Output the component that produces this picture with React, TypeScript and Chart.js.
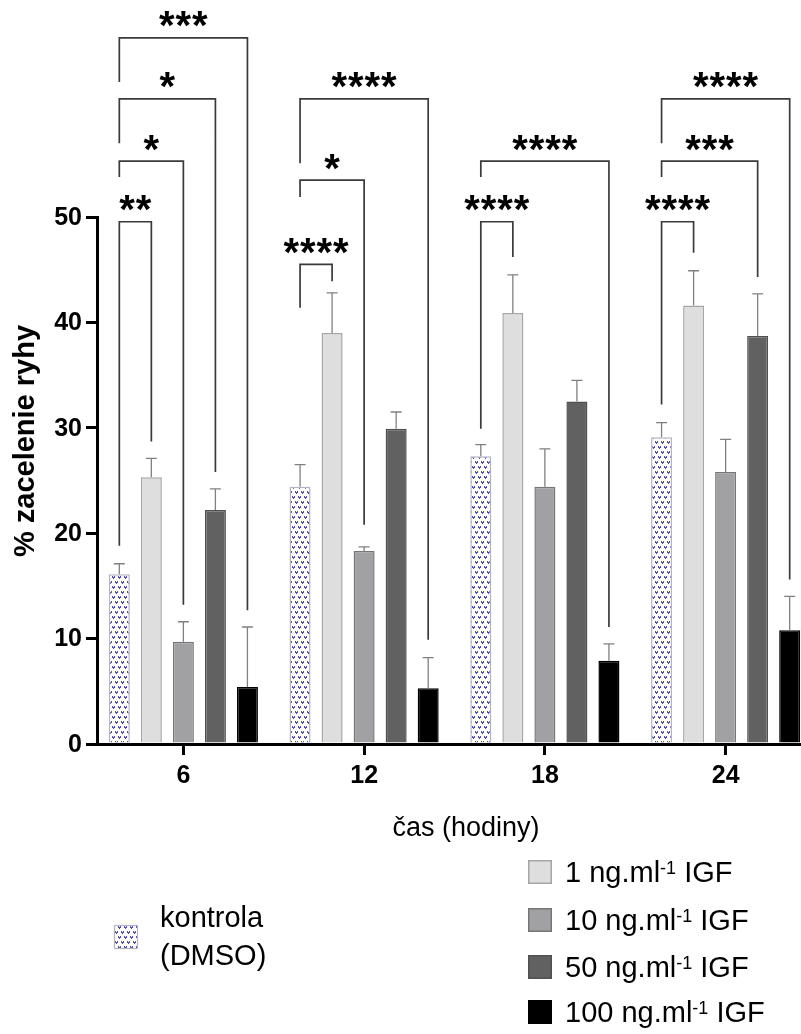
import React, { useEffect, useRef } from 'react';
import { Chart, registerables } from 'chart.js';

Chart.register(...registerables);

// ---------- data ----------
const timeLabels = ['6', '12', '18', '24'];
const seriesLabels = ['kontrola (DMSO)', '1 ng.ml-1 IGF', '10 ng.ml-1 IGF', '50 ng.ml-1 IGF', '100 ng.ml-1 IGF'];

const controlValues = [16.1, 24.4, 27.3, 29.1];
const controlErrors = [1.0, 2.1, 1.1, 1.4];
const igf1Values = [25.3, 39.0, 40.9, 41.6];
const igf1Errors = [1.8, 3.8, 3.6, 3.3];
const igf10Values = [9.7, 18.3, 24.4, 25.8];
const igf10Errors = [1.9, 0.4, 3.6, 3.1];
const igf50Values = [22.2, 29.9, 32.5, 38.7];
const igf50Errors = [2.0, 1.6, 2.0, 4.0];
const igf100Values = [5.4, 5.3, 7.9, 10.8];
const igf100Errors = [5.7, 2.9, 1.6, 3.2];

const yTicks = [0, 10, 20, 30, 40, 50];

// significance brackets (control vs. target series within a time group)
const bracketGroup = [0, 0, 0, 0, 1, 1, 1, 2, 2, 3, 3, 3];
const bracketTarget = [1, 2, 3, 4, 1, 2, 4, 1, 4, 1, 3, 4];
const bracketTop = [49.55, 55.3, 61.2, 67.0, 45.5, 53.5, 61.2, 49.55, 55.3, 49.55, 55.3, 61.2];
const bracketLeftEnd = [18.8, 53.8, 57.0, 62.8, 41.4, 51.9, 55.1, 29.9, 53.8, 32.2, 53.8, 57.0];
const bracketRightEnd = [28.7, 13.2, 25.8, 12.7, 43.9, 20.8, 9.9, 46.2, 11.1, 46.6, 44.3, 15.6];
const bracketStars = ['**', '*', '*', '***', '****', '*', '****', '****', '****', '****', '***', '****'];

const seriesValues = [controlValues, igf1Values, igf10Values, igf50Values, igf100Values];
const seriesErrors = [controlErrors, igf1Errors, igf10Errors, igf50Errors, igf100Errors];

// ---------- styles ----------
const FONT = '"Liberation Sans", Arial, Helvetica, sans-serif';
const seriesFill = ['#ffffff', '#dedede', '#a1a1a4', '#616161', '#000000'];
const seriesBorder = ['#b4b4c4', '#a6a6a6', '#767676', '#505050', '#000000'];

function makePattern(): CanvasPattern | string {
  const c = document.createElement('canvas');
  c.width = 6;
  c.height = 10;
  const g = c.getContext('2d');
  if (!g) return '#e8e8f4';
  g.fillStyle = '#ffffff';
  g.fillRect(0, 0, 6, 10);
  g.fillStyle = 'rgba(60,60,170,0.9)';
  const mark = (x: number, y: number) => {
    g.fillRect(x, y, 1, 1);
    g.fillRect(x + 2, y, 1, 1);
    g.fillRect(x, y + 1, 3, 1);
    g.fillRect(x + 1, y + 2, 1, 1);
  };
  mark(1, 1);
  mark(4, 6);
  mark(-2, 6);
  const p = g.createPattern(c, 'repeat');
  return p || '#e8e8f4';
}

function drawLabel(ctx: CanvasRenderingContext2D, text: string, x: number, baseline: number, size: number) {
  const parts = text.split('-1');
  ctx.font = `${size}px ${FONT}`;
  ctx.fillText(parts[0], x, baseline);
  let cx = x + ctx.measureText(parts[0]).width;
  if (parts.length > 1) {
    const sup = Math.round(size * 0.62);
    ctx.font = `${sup}px ${FONT}`;
    ctx.fillText('-1', cx, baseline - size * 0.3);
    cx += ctx.measureText('-1').width;
    ctx.font = `${size}px ${FONT}`;
    ctx.fillText(parts[1], cx, baseline);
  }
}

const overlayPlugin = {
  id: 'overlay',
  afterDatasetsDraw(chart: any) {
    const ctx: CanvasRenderingContext2D = chart.ctx;
    const y = chart.scales.y;
    ctx.save();
    // error bars (upper only)
    ctx.strokeStyle = '#808080';
    ctx.lineWidth = 1.3;
    seriesValues.forEach((vals, di) => {
      const meta = chart.getDatasetMeta(di);
      meta.data.forEach((bar: any, i: number) => {
        const yb = y.getPixelForValue(vals[i]);
        const yt = y.getPixelForValue(vals[i] + seriesErrors[di][i]);
        ctx.beginPath();
        ctx.moveTo(bar.x, yb);
        ctx.lineTo(bar.x, yt);
        ctx.moveTo(bar.x - 5.5, yt);
        ctx.lineTo(bar.x + 5.5, yt);
        ctx.stroke();
      });
    });
    // brackets
    ctx.strokeStyle = '#3a3a3a';
    ctx.lineWidth = 1.7;
    ctx.fillStyle = '#000';
    const starSize = 40;
    ctx.font = `bold ${starSize}px ${FONT}`;
    ctx.textAlign = 'center';
    ctx.textBaseline = 'alphabetic';
    const m = ctx.measureText('*');
    const starShift = (m.actualBoundingBoxAscent - m.actualBoundingBoxDescent) / 2;
    bracketGroup.forEach((g, k) => {
      const left = chart.getDatasetMeta(0).data[g];
      const right = chart.getDatasetMeta(bracketTarget[k]).data[g];
      const xl = left.x;
      const xr = right.x;
      const yt = y.getPixelForValue(bracketTop[k]);
      ctx.beginPath();
      ctx.moveTo(xl, y.getPixelForValue(bracketLeftEnd[k]));
      ctx.lineTo(xl, yt);
      ctx.lineTo(xr, yt);
      ctx.lineTo(xr, y.getPixelForValue(bracketRightEnd[k]));
      ctx.stroke();
      const n = bracketStars[k].length;
      const pitch = 16.5;
      const cx = (xl + xr) / 2;
      const cy = yt - 18.5;
      for (let s = 0; s < n; s++) {
        ctx.fillText('*', cx + (s - (n - 1) / 2) * pitch, cy + starShift);
      }
    });
    ctx.restore();
  },
  afterDraw(chart: any) {
    const ctx: CanvasRenderingContext2D = chart.ctx;
    const y = chart.scales.y;
    ctx.save();
    ctx.fillStyle = '#000';
    // y tick labels
    ctx.textAlign = 'right';
    ctx.textBaseline = 'middle';
    ctx.font = `bold 25px ${FONT}`;
    y.ticks.forEach((t: any) => {
      ctx.fillText(String(t.value), 82, y.getPixelForValue(t.value) + 1);
    });
    // y title
    ctx.save();
    ctx.translate(26, 441);
    ctx.rotate(-Math.PI / 2);
    ctx.textAlign = 'center';
    ctx.textBaseline = 'middle';
    ctx.font = `bold 29px ${FONT}`;
    ctx.fillText('% zacelenie ryhy', 0, 0);
    ctx.restore();
    // x title
    ctx.textAlign = 'center';
    ctx.textBaseline = 'alphabetic';
    ctx.font = `27px ${FONT}`;
    ctx.fillText('čas (hodiny)', 466, 836);
    // legend
    ctx.textAlign = 'left';
    const size = 29;
    const rightRows = [872, 920, 967, 1012];
    for (let i = 1; i < 5; i++) {
      const cy = rightRows[i - 1];
      ctx.fillStyle = seriesFill[i];
      ctx.fillRect(528, cy - 12, 24, 24);
      ctx.strokeStyle = seriesBorder[i];
      ctx.lineWidth = 1.5;
      ctx.strokeRect(528.75, cy - 11.25, 22.5, 22.5);
      ctx.fillStyle = '#000';
      drawLabel(ctx, seriesLabels[i], 565, cy + size * 0.36, size);
    }
    // control legend
    const ds0 = chart.data.datasets[0];
    ctx.fillStyle = ds0.backgroundColor;
    ctx.fillRect(114, 925, 24, 24);
    ctx.strokeStyle = seriesBorder[0];
    ctx.lineWidth = 1.2;
    ctx.strokeRect(114.5, 925.5, 23, 23);
    ctx.fillStyle = '#000';
    const [l1, l2] = seriesLabels[0].split(' ');
    ctx.font = `${size}px ${FONT}`;
    ctx.fillText(l1, 160, 917 + size * 0.36);
    ctx.fillText(l2, 160, 955 + size * 0.36);
    ctx.restore();
  },
};

export default function App() {
  const ref = useRef<HTMLCanvasElement>(null);
  useEffect(() => {
    const canvas = ref.current;
    if (!canvas) return;
    const pattern = makePattern();
    const chart = new Chart(canvas, {
      type: 'bar',
      data: {
        labels: timeLabels,
        datasets: seriesValues.map((vals, i) => ({
          label: seriesLabels[i],
          data: vals,
          backgroundColor: i === 0 ? (pattern as any) : seriesFill[i],
          borderColor: seriesBorder[i],
          borderWidth: 1.5,
          categoryPercentage: 0.886,
          barPercentage: 0.656,
        })),
      },
      options: {
        responsive: false,
        animation: false,
        layout: { padding: { left: 93, right: 24, top: 217, bottom: 230 } },
        plugins: {
          legend: { display: false },
          tooltip: { enabled: false },
        },
        scales: {
          x: {
            type: 'category',
            offset: true,
            grid: { offset: false, drawOnChartArea: false, color: '#000', lineWidth: 3, tickLength: 11 },
            border: { color: '#000', width: 3 },
            ticks: { color: '#000', font: { family: FONT, size: 25, weight: 'bold' }, padding: 6 },
            afterFit: (s: any) => {
              s.height = 60;
            },
          },
          y: {
            position: { x: -0.4724 } as any,
            min: 0,
            max: 50,
            afterBuildTicks: (s: any) => {
              s.ticks = yTicks.map((v) => ({ value: v }));
            },
            ticks: { display: false },
            grid: { drawOnChartArea: false, color: '#000', lineWidth: 3, tickLength: 10 },
            border: { color: '#000', width: 3 },
          },
        },
      } as any,
      plugins: [overlayPlugin],
    });
    return () => chart.destroy();
  }, []);

  return (
    <div
      style={{
        position: 'fixed',
        left: 0,
        top: 0,
        width: 801,
        height: 1034,
        overflow: 'hidden',
        background: '#fff',
      }}
    >
      <canvas ref={ref} width={840} height={1034} style={{ display: 'block', width: 840, height: 1034 }} />
    </div>
  );
}
